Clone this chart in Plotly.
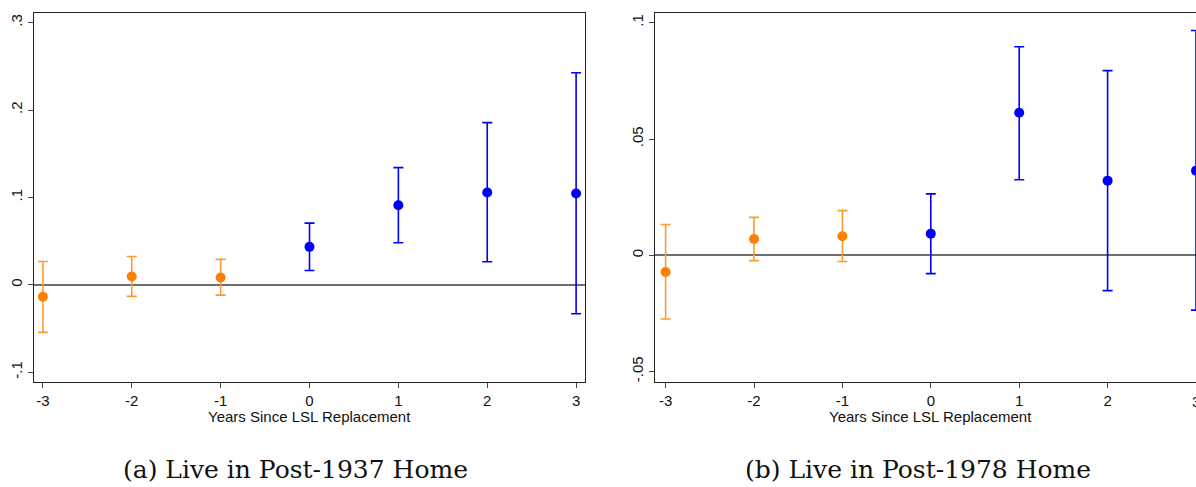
import plotly.graph_objects as go

years = [-3, -2, -1, 0, 1, 2, 3]

# Panel (a): Live in Post-1937 Home
a_est = [-0.0137, 0.0095, 0.0084, 0.0434, 0.091, 0.1055, 0.1044]
a_hi = [0.0267, 0.0324, 0.029, 0.0705, 0.134, 0.1855, 0.2427]
a_lo = [-0.0545, -0.0133, -0.0118, 0.0164, 0.048, 0.0263, -0.0331]

# Panel (b): Live in Post-1978 Home
b_est = [-0.0072, 0.0070, 0.0082, 0.0093, 0.0613, 0.0321, 0.0364]
b_hi = [0.0132, 0.0163, 0.0192, 0.0264, 0.0897, 0.0794, 0.0967]
b_lo = [-0.0274, -0.0023, -0.0027, -0.0079, 0.0325, -0.0152, -0.0236]

a_yticks = [-0.1, 0, 0.1, 0.2, 0.3]
a_yticktext = ["-.1", "0", ".1", ".2", ".3"]
b_yticks = [-0.05, 0, 0.05, 0.1]
b_yticktext = ["-.05", "0", ".05", ".1"]

xtitle = "Years Since LSL Replacement"
captions = ["(a) Live in Post-1937 Home", "(b) Live in Post-1978 Home"]

ORANGE = "#FF8000"
ORANGE_BAR = "#FF9A33"
BLUE = "#0000FF"

fig = go.Figure()


def add_panel(est, hi, lo, xa, ya):
    pre = [i for i, y in enumerate(years) if y < 0]
    post = [i for i, y in enumerate(years) if y >= 0]
    for idx, mcol, bcol in ((pre, ORANGE, ORANGE_BAR), (post, BLUE, BLUE)):
        fig.add_trace(go.Scatter(
            x=[years[i] for i in idx],
            y=[est[i] for i in idx],
            mode="markers",
            marker=dict(color=mcol, size=10),
            error_y=dict(type="data", symmetric=False,
                         array=[hi[i] - est[i] for i in idx],
                         arrayminus=[est[i] - lo[i] for i in idx],
                         color=bcol, thickness=1.6, width=5),
            xaxis=xa, yaxis=ya, showlegend=False,
        ))


add_panel(a_est, a_hi, a_lo, "x", "y")
add_panel(b_est, b_hi, b_lo, "x2", "y2")

ydom = [1 - 381.5 / 487, 1 - 13 / 487]
SANS = "Liberation Sans, Arial, sans-serif"
axis_font = dict(family=SANS, size=15, color="#111")

common_x = dict(tickvals=years, ticktext=[str(y) for y in years], ticks="outside",
                ticklen=5, tickcolor="#444", showline=True, linecolor="#222",
                linewidth=1.3, mirror=True, showgrid=False, zeroline=False,
                tickfont=axis_font)
common_y = dict(ticks="outside", ticklen=5, tickcolor="#444", showline=True,
                linecolor="#222", linewidth=1.3, showgrid=False, zeroline=True,
                zerolinecolor="#6E6E6E", zerolinewidth=1.6, tickangle=-90,
                tickfont=axis_font, domain=ydom)

fig.update_layout(
    width=1196, height=487,
    margin=dict(l=0, r=0, t=0, b=0),
    paper_bgcolor="white", plot_bgcolor="white",
    xaxis=dict(domain=[34 / 1196, 585 / 1196], range=[-3.1, 3.1], anchor="y", **common_x),
    yaxis=dict(range=[-0.1107, 0.311], tickvals=a_yticks, ticktext=a_yticktext,
               anchor="x", mirror=True, **common_y),
    xaxis2=dict(domain=[655 / 1196, 1.0], range=[-3.12, 3.0], anchor="y2", **common_x),
    yaxis2=dict(range=[-0.0543, 0.1042], tickvals=b_yticks, ticktext=b_yticktext,
                anchor="x2", mirror=False, **common_y),
)

# the right panel's last tick label is cut by the page edge in the reference
fig.add_annotation(text="3", xref="x2", yref="paper", x=3, y=1 - 391 / 487,
                   showarrow=False, font=axis_font, xanchor="center", yanchor="top")

# axis titles
for xr in ("x", "x2"):
    fig.add_annotation(text=xtitle, xref=xr, yref="paper", x=0, y=1 - 416 / 487,
                       showarrow=False, font=dict(family=SANS, size=15, color="#111"),
                       xanchor="center", yanchor="middle")

# captions
for cap, cx in zip(captions, (295 / 1196, 918 / 1196)):
    fig.add_annotation(text=cap, xref="paper", yref="paper", x=cx, y=1 - 469 / 487,
                       showarrow=False, font=dict(family="DejaVu Serif, serif",
                                                  size=25, color="#111"),
                       xanchor="center", yanchor="middle")

fig.write_html("out.html")
